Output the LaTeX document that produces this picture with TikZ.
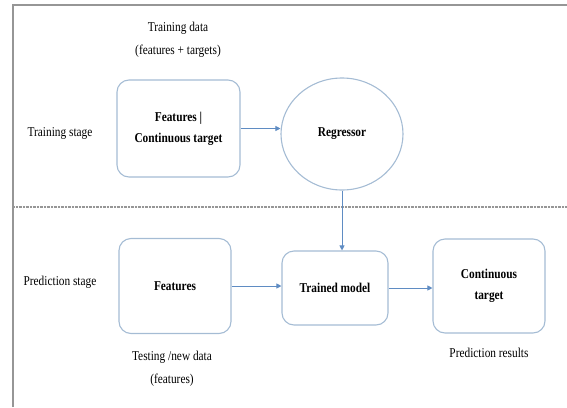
\documentclass[tikz,border=0pt]{standalone}
\usepackage{fontspec}
\setmainfont{Liberation Serif}[FakeStretch=0.84]
\usetikzlibrary{shapes.geometric,arrows.meta}
\definecolor{boxline}{RGB}{165,188,212}
\definecolor{arrowc}{RGB}{95,140,195}
\definecolor{framec}{RGB}{150,150,150}
\tikzset{
  stagebox/.style={draw=boxline, line width=1.1pt, rounded corners=12pt, align=center,
    font=\fontsize{13.5}{21}\selectfont\bfseries, inner sep=2pt},
  regshape/.style={draw=boxline, line width=1.1pt, ellipse, align=center,
    font=\fontsize{13.5}{21}\selectfont\bfseries, inner sep=0pt},
  lbl/.style={align=center, font=\fontsize{13.5}{23}\selectfont, inner sep=1pt},
  arr/.style={draw=arrowc, line width=0.9pt, -{Triangle[length=5pt,width=5pt]}},
}
\begin{document}
\begin{tikzpicture}[x=1pt,y=-1pt]
\useasboundingbox (0,0) rectangle (567,407);
% frame
\coordinate (fbl) at (13,407);
\coordinate (ftl) at (13,5);
\coordinate (ftr) at (567,5);
\draw[framec, line width=1.8pt] (fbl) -- (ftl) -- (ftr);
% separator
\coordinate (sl) at (13,207);
\coordinate (sr) at (567,207);
\draw[framec, line width=1.8pt, dash pattern=on 0.7pt off 0.7pt] (sl) -- (sr);

% labels
\node[lbl] (tdata) at (178,40) {Training data\\(features + targets)};
\node[lbl] (tstage) at (60,133) {Training stage};
\node[lbl] (pstage) at (60,282) {Prediction stage};
\node[lbl] (newdata) at (172,369) {Testing /new data\\(features)};
\node[lbl] (presults) at (489,353) {Prediction results};

% nodes
\node[stagebox, minimum width=123pt, minimum height=97pt] (box1) at (178.5,128.5) {Features |\\Continuous target};
\node[regshape, minimum width=122pt, minimum height=112pt] (reg) at (342,134) {Regressor};
\node[stagebox, minimum width=112pt, minimum height=95pt] (feat) at (175,286) {Features};
\node[stagebox, minimum width=106pt, minimum height=74pt] (trained) at (335,288) {Trained model};
\node[stagebox, minimum width=112pt, minimum height=94pt] (cont) at (489,286) {Continuous\\target};

% connectors
\draw[arr] (box1.east) -- (box1.east -| reg.west);
\draw[arr] (reg.south) -- (reg.south |- trained.north);
\draw[arr] (feat.east) -- (feat.east -| trained.west);
\draw[arr] (trained.east) -- (trained.east -| cont.west);
\end{tikzpicture}
\end{document}
